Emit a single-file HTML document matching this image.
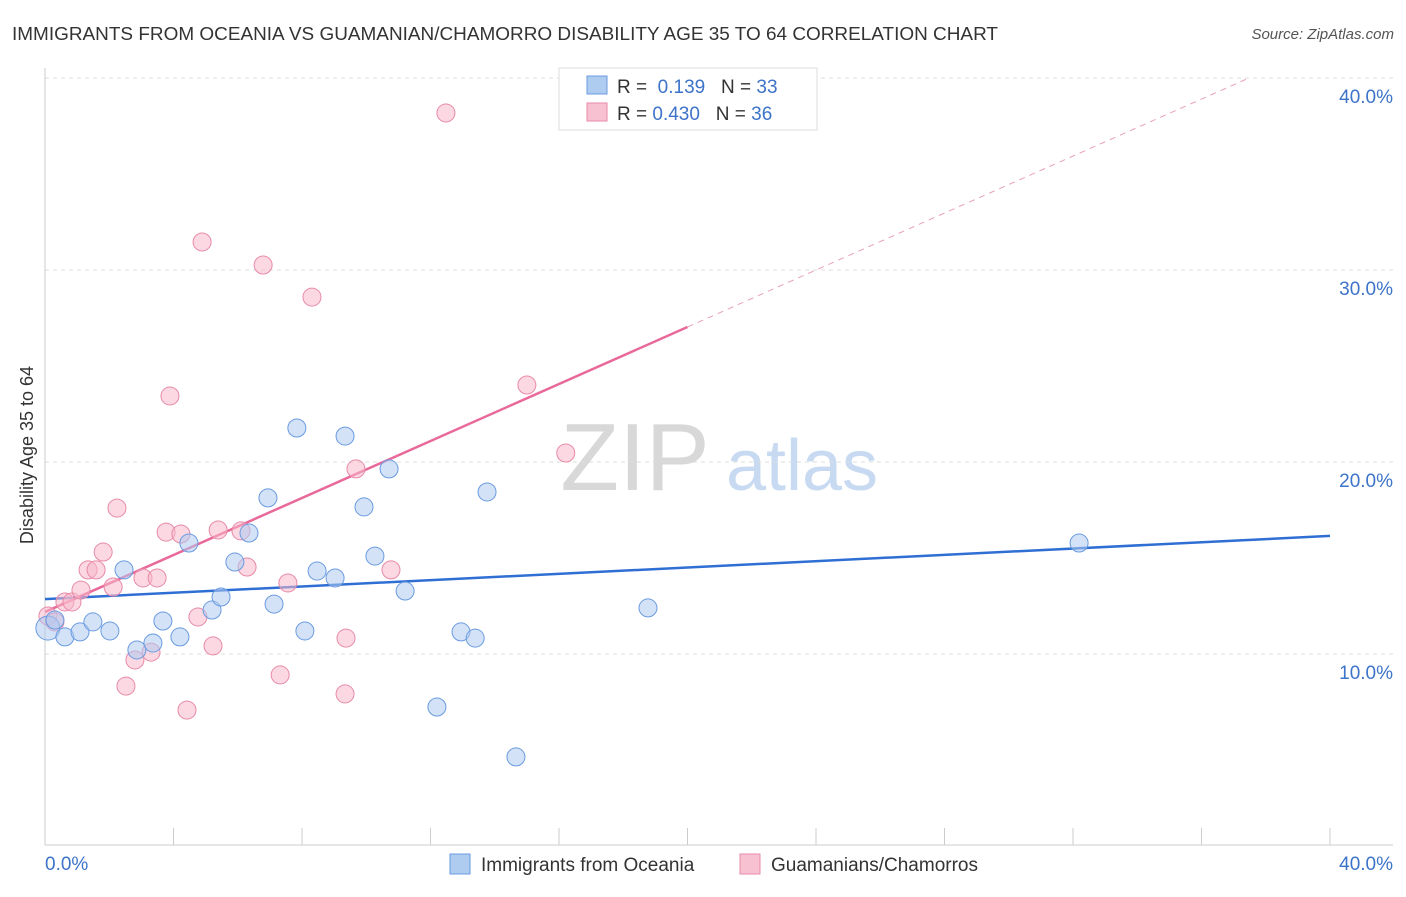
<!DOCTYPE html>
<html><head><meta charset="utf-8"><style>
body{margin:0;background:#fff;font-family:"Liberation Sans",sans-serif}
svg text{font-family:"Liberation Sans",sans-serif}
</style></head><body>
<svg id="chart" width="1406" height="892" xmlns="http://www.w3.org/2000/svg">
<text x="12" y="40" font-size="18" fill="#333" textLength="986" lengthAdjust="spacingAndGlyphs">IMMIGRANTS FROM OCEANIA VS GUAMANIAN/CHAMORRO DISABILITY AGE 35 TO 64 CORRELATION CHART</text>
<text x="1394" y="39" font-size="15" fill="#555" text-anchor="end" font-style="italic">Source: ZipAtlas.com</text>
<g>
<text x="635" y="490" font-size="96" fill="#d8d8d8" text-anchor="middle" font-family="Liberation Serif">ZIP</text>
<text x="802" y="490" font-size="72" fill="#c8daf2" text-anchor="middle">atlas</text>
</g>
<g id="grid"></g>
<g id="axes"></g>
<g id="lines"></g>
<g id="points"></g>
<text transform="translate(33,455) rotate(-90)" font-size="18" fill="#333" text-anchor="middle">Disability Age 35 to 64</text>
<g>
<rect x="559" y="68" width="258" height="62" fill="#fff" stroke="#ddd"/>
<rect x="587" y="76" width="20" height="18" fill="#aecbf0" stroke="#6a9be0"/>
<rect x="587" y="103" width="20" height="18" fill="#f7c1d2" stroke="#e88aa8"/>
<text x="617" y="93" font-size="19" fill="#333">R = <tspan fill="#3d73c9">&#160;0.139</tspan>&#160;&#160;&#160;N = <tspan fill="#3d73c9">33</tspan></text>
<text x="617" y="120" font-size="19" fill="#333">R = <tspan fill="#3d73c9">0.430</tspan>&#160;&#160;&#160;N = <tspan fill="#3d73c9">36</tspan></text>
</g>
<g>
<rect x="450" y="854" width="20" height="20" fill="#aecbf0" stroke="#6a9be0"/>
<text x="481" y="871" font-size="19" fill="#333">Immigrants from Oceania</text>
<rect x="740" y="854" width="20" height="20" fill="#f7c1d2" stroke="#e88aa8"/>
<text x="771" y="871" font-size="19" fill="#333">Guamanians/Chamorros</text>
</g>
</svg>
<script>
const yTicks=[10,20,30,40];
const yTickLabels=["10.0%","20.0%","30.0%","40.0%"];
const xTicks=[0,4,8,12,16,20,24,28,32,36,40];
const blueX=[0.09,0.31,0.62,1.09,1.49,2.02,2.46,2.86,3.36,3.67,4.20,4.48,5.20,5.48,5.91,6.35,6.94,7.13,7.84,8.09,8.47,9.03,9.34,9.93,10.27,10.71,11.21,12.20,12.95,13.39,13.76,14.66,18.77,32.19];
const blueY=[11.35,11.77,10.89,11.15,11.67,11.20,14.38,10.21,10.57,11.72,10.89,15.78,12.29,12.97,14.79,16.30,18.13,12.60,21.77,11.20,14.32,13.96,21.35,17.66,15.10,19.64,13.28,7.24,11.15,10.83,18.44,4.64,12.40,15.78];
const pinkX=[0.09,0.31,0.62,0.84,1.12,1.34,1.59,1.81,2.12,2.24,2.52,2.80,3.05,3.30,3.49,3.77,3.89,4.23,4.42,4.76,4.89,5.23,5.39,6.10,6.29,6.79,7.32,7.56,8.31,9.34,9.37,9.68,10.77,12.48,15.00,16.21];
const pinkY=[11.98,11.67,12.71,12.71,13.33,14.38,14.38,15.31,13.49,17.60,8.33,9.69,13.96,10.10,13.96,16.35,23.44,16.25,7.08,11.93,31.46,10.42,16.46,16.41,14.53,30.26,8.91,13.70,28.59,7.92,10.83,19.64,14.38,38.18,24.01,20.47];
const blueLine=[12.86,16.15];
const pinkLine=[12.19,0.742];
const NS="http://www.w3.org/2000/svg";
const X=v=>45+v*32.125, Y=v=>846-v*19.2;
function mk(tag,attrs,parent){const e=document.createElementNS(NS,tag);for(const k in attrs)e.setAttribute(k,attrs[k]);document.getElementById(parent).appendChild(e);return e;}
yTicks.forEach((t,i)=>{
 const l=mk('line',{x1:45,x2:1393,y1:Y(t),y2:Y(t),stroke:'#ddd','stroke-dasharray':'4,4'},'grid');
 
 
 const tx=mk('text',{x:1393,y:Y(t)+25,'font-size':19,fill:'#3d73c9','text-anchor':'end'},'axes');
 tx.textContent=yTickLabels[i];
 
 
});
const ya=mk('line',{x1:45,x2:45,y1:68,y2:845,stroke:'#ccc'},'axes');


const xa=mk('line',{x1:45,x2:1393,y1:845,y2:845,stroke:'#ccc'},'axes');


xTicks.forEach(t=>{
 const l=mk('line',{x1:X(t),x2:X(t),y1:828,y2:845,stroke:'#ccc'},'axes');
 
 
});
const x0=mk('text',{x:45,y:870,'font-size':19,fill:'#3d73c9'},'axes');x0.textContent='0.0%';


const x1=mk('text',{x:1393,y:870,'font-size':19,fill:'#3d73c9','text-anchor':'end'},'axes');x1.textContent='40.0%';


function dot(x,y,fill,stroke,name,r){const c=mk('circle',{cx:X(x),cy:Y(y),r:r,fill:fill,'fill-opacity':0.55,stroke:stroke,'stroke-width':1},'points');
 
 }
pinkX.forEach((x,i)=>dot(x,pinkY[i],'#f7b8cb','#e88aa8','guamanian-point',9));
blueX.forEach((x,i)=>dot(x,blueY[i],'#aecbf0','#6a9be0','oceania-point',i===0?12:9));
const bl=mk('line',{x1:X(0),y1:Y(blueLine[0]),x2:X(40),y2:Y(blueLine[1]),stroke:'#2f6fd4','stroke-width':2.5},'lines');


const pl=mk('line',{x1:X(0),y1:Y(pinkLine[0]),x2:X(20),y2:Y(pinkLine[0]+pinkLine[1]*20),stroke:'#e8699a','stroke-width':2.5},'lines');


const xe=(40-pinkLine[0])/pinkLine[1];
const pd=mk('line',{x1:X(20),y1:Y(pinkLine[0]+pinkLine[1]*20),x2:X(xe),y2:Y(40),stroke:'#e8a0b8','stroke-width':1,'stroke-dasharray':'6,5'},'lines');


</script>
</body></html>
